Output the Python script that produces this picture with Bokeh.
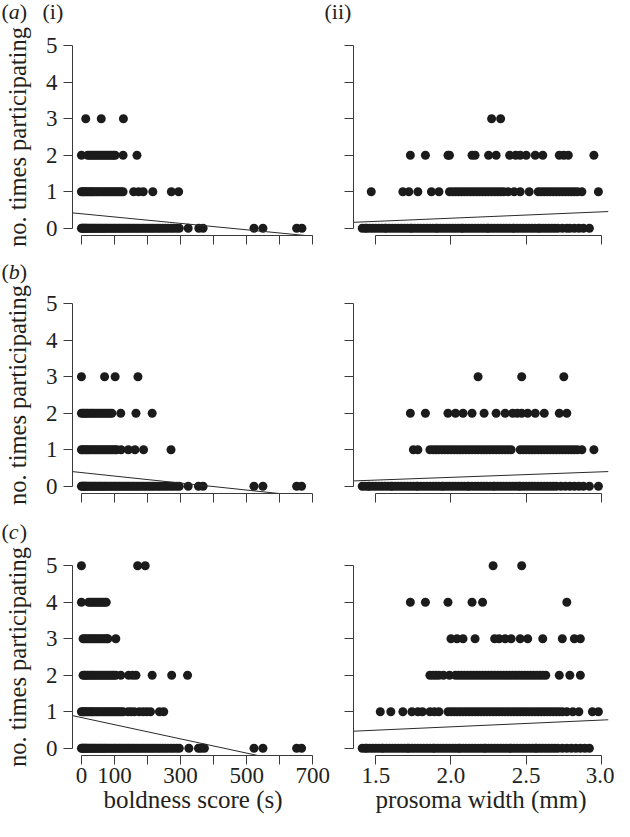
from bokeh.plotting import figure
from bokeh.layouts import column, row
from bokeh.models import FixedTicker, Range1d
from bokeh.core.properties import value
from bokeh.embed import file_html
from bokeh.resources import INLINE

# ---------------- data ----------------
# count levels 0..5 ; each list = x positions of the points at that count

# (a)(i) boldness score
bold_a_0 = [0, 3, 6, 9, 12, 15, 19, 23, 27, 32, 36, 41, 45, 50, 55, 59, 64, 69, 74, 79, 85, 90, 96, 101,
            107, 113, 118, 124, 130, 136, 142, 148, 155, 161, 168, 174, 181, 188, 195, 202, 209, 216, 223,
            231, 238, 246, 254, 262, 271, 279, 288, 296, 323, 355, 368, 522, 549, 651, 667]
bold_a_1 = [0, 4, 8, 12, 17, 22, 27, 32, 37, 43, 48, 54, 60, 66, 72, 78, 84, 90, 96, 102, 108, 114, 120,
            126, 158, 173, 187, 216, 272, 294]
bold_a_2 = [0, 19, 25, 31, 37, 43, 49, 55, 61, 67, 73, 79, 85, 91, 97, 102, 126, 168]
bold_a_3 = [13, 60, 127]
reg_a_bold = [0.396, -0.00088]   # intercept, slope

# (a)(ii) prosoma width
pros_a_0 = [1.41, 1.43, 1.44, 1.46, 1.48, 1.50, 1.52, 1.54, 1.56, 1.57, 1.59, 1.61, 1.63, 1.65, 1.67, 1.69,
            1.71, 1.73, 1.74, 1.76, 1.78, 1.80, 1.82, 1.84, 1.86, 1.88, 1.90, 1.91, 1.93, 1.95, 1.97, 1.99,
            2.01, 2.03, 2.05, 2.07, 2.08, 2.10, 2.12, 2.14, 2.16, 2.18, 2.20, 2.22, 2.24, 2.25, 2.27, 2.29,
            2.31, 2.33, 2.35, 2.37, 2.39, 2.41, 2.42, 2.44, 2.46, 2.48, 2.50, 2.52, 2.54, 2.56, 2.58, 2.59,
            2.61, 2.63, 2.65, 2.67, 2.69, 2.71, 2.74, 2.77, 2.79, 2.82, 2.85, 2.88, 2.92]
pros_a_1 = [1.47, 1.68, 1.72, 1.78, 1.87, 1.92, 1.99, 2.01, 2.03, 2.05, 2.07, 2.09, 2.11, 2.13, 2.15, 2.17,
            2.19, 2.21, 2.23, 2.25, 2.27, 2.29, 2.31, 2.33, 2.35, 2.38, 2.42, 2.46, 2.52, 2.58, 2.60, 2.62,
            2.64, 2.66, 2.68, 2.70, 2.72, 2.74, 2.76, 2.78, 2.80, 2.82, 2.84, 2.87, 2.98]
pros_a_2 = [1.73, 1.83, 1.98, 1.99, 2.14, 2.16, 2.25, 2.30, 2.39, 2.43, 2.46, 2.50, 2.56, 2.61, 2.72,
            2.75, 2.78, 2.95]
pros_a_3 = [2.27, 2.33]
reg_a_pros = [-0.074, 0.174]

# (b)(i) boldness score
bold_b_0 = [0, 3, 6, 9, 12, 15, 19, 23, 27, 32, 36, 41, 45, 50, 55, 59, 64, 69, 74, 79, 85, 90, 96, 101,
            107, 113, 118, 124, 130, 136, 142, 148, 155, 161, 168, 174, 181, 188, 195, 202, 209, 216, 223,
            231, 238, 246, 254, 262, 271, 279, 288, 296, 323, 354, 368, 522, 549, 651, 666]
bold_b_1 = [0, 4, 9, 14, 19, 24, 30, 36, 42, 48, 54, 60, 66, 72, 78, 84, 90, 96, 102, 107, 120, 142,
            162, 188, 271]
bold_b_2 = [0, 5, 10, 15, 20, 26, 32, 38, 44, 50, 56, 62, 68, 74, 80, 86, 92, 119, 165, 214]
bold_b_3 = [0, 70, 102, 171]
reg_b_bold = [0.374, -0.00096]

# (b)(ii) prosoma width
pros_b_0 = [1.41, 1.43, 1.45, 1.46, 1.48, 1.50, 1.52, 1.54, 1.56, 1.58, 1.60, 1.61, 1.63, 1.65, 1.67, 1.69,
            1.71, 1.73, 1.75, 1.77, 1.78, 1.80, 1.82, 1.84, 1.86, 1.88, 1.90, 1.92, 1.94, 1.95, 1.97, 1.99,
            2.01, 2.03, 2.05, 2.07, 2.09, 2.11, 2.12, 2.14, 2.16, 2.18, 2.20, 2.22, 2.24, 2.26, 2.28, 2.29,
            2.31, 2.33, 2.35, 2.37, 2.39, 2.41, 2.43, 2.45, 2.46, 2.48, 2.50, 2.52, 2.54, 2.56, 2.58, 2.60,
            2.62, 2.64, 2.66, 2.68, 2.70, 2.73, 2.76, 2.79, 2.82, 2.85, 2.88, 2.92, 2.98]
pros_b_1 = [1.75, 1.78, 1.86, 1.88, 1.90, 1.92, 1.94, 1.96, 1.98, 2.00, 2.02, 2.04, 2.06, 2.08, 2.10, 2.12,
            2.14, 2.16, 2.18, 2.20, 2.22, 2.24, 2.26, 2.28, 2.30, 2.32, 2.34, 2.36, 2.38, 2.40, 2.46, 2.48,
            2.50, 2.52, 2.54, 2.56, 2.58, 2.60, 2.62, 2.64, 2.66, 2.68, 2.70, 2.72, 2.74, 2.76, 2.78, 2.80,
            2.82, 2.84, 2.87, 2.95]
pros_b_2 = [1.73, 1.83, 1.98, 2.03, 2.08, 2.14, 2.22, 2.30, 2.36, 2.41, 2.44, 2.47, 2.51, 2.56, 2.62,
            2.72, 2.77]
pros_b_3 = [2.18, 2.47, 2.75]
reg_b_pros = [-0.059, 0.151]

# (c)(i) boldness score
bold_c_0 = [0, 3, 6, 9, 12, 15, 19, 23, 27, 32, 36, 41, 45, 50, 55, 59, 64, 69, 74, 79, 85, 90, 96, 101,
            107, 113, 118, 124, 130, 136, 142, 148, 155, 161, 168, 174, 181, 188, 195, 202, 209, 216, 223,
            231, 238, 246, 254, 262, 271, 279, 288, 296, 325, 354, 362, 372, 522, 549, 651, 666]
bold_c_1 = [0, 4, 8, 12, 17, 22, 27, 32, 37, 43, 48, 54, 60, 66, 72, 78, 84, 90, 96, 102, 108, 114, 120,
            126, 141, 150, 160, 175, 187, 198, 209, 236, 249]
bold_c_2 = [5, 10, 15, 20, 26, 32, 38, 44, 50, 56, 62, 68, 74, 80, 86, 92, 98, 104, 119, 143, 155, 165,
            214, 273, 321]
bold_c_3 = [5, 10, 16, 22, 28, 34, 40, 46, 52, 58, 64, 70, 76, 80, 104]
bold_c_4 = [0, 22, 28, 34, 40, 46, 52, 58, 64, 70, 75]
bold_c_5 = [0, 170, 193]
reg_c_bold = [0.84, -0.00195]

# (c)(ii) prosoma width
pros_c_0 = [1.41, 1.43, 1.44, 1.46, 1.48, 1.50, 1.52, 1.54, 1.55, 1.57, 1.59, 1.61, 1.63, 1.65, 1.67, 1.69,
            1.71, 1.72, 1.74, 1.76, 1.78, 1.80, 1.82, 1.84, 1.86, 1.88, 1.89, 1.91, 1.93, 1.95, 1.97, 1.99,
            2.01, 2.03, 2.05, 2.06, 2.08, 2.10, 2.12, 2.14, 2.16, 2.18, 2.20, 2.22, 2.23, 2.25, 2.27, 2.29,
            2.31, 2.33, 2.35, 2.37, 2.39, 2.40, 2.42, 2.44, 2.46, 2.48, 2.50, 2.52, 2.54, 2.56, 2.57, 2.59,
            2.61, 2.63, 2.65, 2.67, 2.69, 2.71, 2.74, 2.77, 2.80, 2.83, 2.86, 2.89, 2.92]
pros_c_1 = [1.53, 1.60, 1.68, 1.74, 1.78, 1.81, 1.86, 1.89, 1.92, 1.98, 2.00, 2.02, 2.04, 2.06, 2.08, 2.10,
            2.12, 2.14, 2.16, 2.18, 2.20, 2.22, 2.24, 2.26, 2.28, 2.30, 2.32, 2.34, 2.36, 2.38, 2.40, 2.42,
            2.44, 2.46, 2.48, 2.50, 2.52, 2.54, 2.56, 2.58, 2.60, 2.62, 2.64, 2.66, 2.68, 2.70, 2.72, 2.74,
            2.77, 2.81, 2.85, 2.94, 2.98]
pros_c_2 = [1.86, 1.88, 1.90, 1.92, 1.95, 1.99, 2.03, 2.05, 2.07, 2.09, 2.11, 2.13, 2.15, 2.17, 2.19, 2.21,
            2.23, 2.25, 2.27, 2.29, 2.31, 2.33, 2.35, 2.37, 2.39, 2.41, 2.43, 2.45, 2.47, 2.49, 2.51, 2.53,
            2.55, 2.57, 2.59, 2.61, 2.63, 2.72, 2.79, 2.86]
pros_c_3 = [2.00, 2.04, 2.08, 2.16, 2.29, 2.32, 2.36, 2.40, 2.46, 2.51, 2.61, 2.74, 2.82, 2.86]
pros_c_4 = [1.73, 1.83, 1.98, 2.14, 2.21, 2.77]
pros_c_5 = [2.28, 2.47]
reg_c_pros = [0.216, 0.185]

count_ticks = [0, 1, 2, 3, 4, 5]
bold_ticks = [0, 100, 200, 300, 400, 500, 600, 700]
bold_tick_labels = ["0", "100", "", "300", "", "500", "", "700"]
pros_ticks = [1.5, 2.0, 2.5, 3.0]
pros_tick_labels = ["1.5", "2.0", "2.5", "3.0"]

# ---------------- styling ----------------
FONT = "Liberation Serif"
INK = "#1b1b1b"
AX = "#3a3a3a"
TXT = "#231f20"
BOLD_RANGE = (-27, 702)
PROS_RANGE = (1.352, 3.047)
Y_RANGE = (-0.2, 5.2)
PAGE_W = 614


def style_axis(ax, ticks, bounds, labels=None, standoff=6):
    ax.ticker = FixedTicker(ticks=ticks, minor_ticks=[])
    ax.bounds = bounds
    ax.axis_line_color = AX
    ax.axis_line_width = 1
    ax.major_tick_line_color = AX
    ax.major_tick_line_width = 1
    ax.major_tick_out = 9
    ax.major_tick_in = 0
    ax.minor_tick_out = 0
    ax.minor_tick_in = 0
    ax.major_label_text_font = FONT
    ax.major_label_text_color = TXT
    ax.axis_label_text_font = FONT
    ax.axis_label_text_font_style = "normal"
    ax.axis_label_text_color = TXT
    ax.axis_label_text_font_size = "25px"
    if labels is None:
        ax.major_label_overrides = {t: "" for t in ticks}
        ax.major_label_text_font_size = "1px"
        ax.major_label_standoff = 0
    else:
        ax.major_label_overrides = {t: s for t, s in zip(ticks, labels)}
        ax.major_label_text_font_size = "23px"
        ax.major_label_standoff = standoff


def make_panel(geom, levels, reg):
    w, h, bl, br, bt, bb, xr = geom
    p = figure(width=w, height=h, output_backend="svg", toolbar_location=None,
               x_range=Range1d(*xr), y_range=Range1d(*Y_RANGE),
               min_border_left=bl, min_border_right=br, min_border_top=bt, min_border_bottom=bb)
    p.outline_line_color = None
    p.xgrid.visible = False
    p.ygrid.visible = False
    p.background_fill_color = "white"
    p.border_fill_color = "white"
    for count, xs in enumerate(levels):
        p.scatter(xs, [count] * len(xs), size=9, fill_color=INK, line_color=None)
    b0, b1 = reg
    p.line([xr[0], xr[1]], [b0 + b1 * xr[0], b0 + b1 * xr[1]], line_color="#2a2a2a", line_width=1)
    return p


def tag_strip(height, items):
    """A thin figure that only carries the panel tags such as (a), (i)."""
    s = figure(width=PAGE_W, height=height, output_backend="svg", toolbar_location=None,
               x_range=Range1d(0, PAGE_W), y_range=Range1d(height, 0),
               x_axis_type=None, y_axis_type=None,
               min_border_left=0, min_border_right=0, min_border_top=0, min_border_bottom=0)
    s.outline_line_color = None
    s.background_fill_color = "white"
    s.border_fill_color = "white"
    for x, y, txt, style in items:
        s.text(x=[x], y=[y], text=[txt], text_font=value(FONT), text_font_size="22px",
               text_font_style=style, text_color=TXT, text_align="left", text_baseline="middle")
    return s


def tag_items(x, y, letter):
    return [(x, y, "(", "normal"), (x + 7.3, y, letter, "italic"), (x + 18.3, y, ")", "normal")]


YLAB = "no. times participating"

# geometry: width, height, border left/right/top/bottom, x range
g1l = (320, 223, 68, 7, 12, 14, BOLD_RANGE)
g1r = (294, 223, 33, 6, 12, 14, PROS_RANGE)
g2l = (320, 234, 68, 7, 12, 25, BOLD_RANGE)
g2r = (294, 234, 33, 6, 12, 25, PROS_RANGE)
g3l = (338, 275, 68, 25, 12, 66, BOLD_RANGE)
g3r = (276, 275, 15, 6, 12, 66, PROS_RANGE)

panels = []
specs = [
    (g1l, [bold_a_0, bold_a_1, bold_a_2, bold_a_3], reg_a_bold, "bold", False),
    (g1r, [pros_a_0, pros_a_1, pros_a_2, pros_a_3], reg_a_pros, "pros", False),
    (g2l, [bold_b_0, bold_b_1, bold_b_2, bold_b_3], reg_b_bold, "bold", False),
    (g2r, [pros_b_0, pros_b_1, pros_b_2, pros_b_3], reg_b_pros, "pros", False),
    (g3l, [bold_c_0, bold_c_1, bold_c_2, bold_c_3, bold_c_4, bold_c_5], reg_c_bold, "bold", True),
    (g3r, [pros_c_0, pros_c_1, pros_c_2, pros_c_3, pros_c_4, pros_c_5], reg_c_pros, "pros", True),
]
for geom, levels, reg, kind, bottom in specs:
    p = make_panel(geom, levels, reg)
    yax = p.yaxis[0]
    xax = p.xaxis[0]
    if kind == "bold":
        style_axis(yax, count_ticks, (0, 5), [str(t) for t in count_ticks], standoff=6)
        yax.axis_label = YLAB
        yax.axis_label_text_font_size = "24.5px"
        yax.axis_label_standoff = 12
        if bottom:
            style_axis(xax, bold_ticks, (0, 700), bold_tick_labels, standoff=3)
            xax.axis_label = "boldness score (s)"
            xax.axis_label_standoff = 0
        else:
            style_axis(xax, bold_ticks, (0, 700))
    else:
        style_axis(yax, count_ticks, (0, 5))
        if bottom:
            style_axis(xax, pros_ticks, (1.5, 3.0), pros_tick_labels, standoff=3)
            xax.axis_label = "prosoma width (mm)"
            xax.axis_label_standoff = 0
        else:
            style_axis(xax, pros_ticks, (1.5, 3.0))
    panels.append(p)

strip1 = tag_strip(26, tag_items(1, 10.7, "a") + [(42, 10.7, "(i)", "normal"), (324, 10.7, "(ii)", "normal")])
strip2 = tag_strip(35, tag_items(1, 22.2, "b"))
strip3 = tag_strip(28, tag_items(1, 12.7, "c"))

layout = column(strip1, row(panels[0], panels[1]),
                strip2, row(panels[2], panels[3]),
                strip3, row(panels[4], panels[5]))

open("out.html", "w").write(file_html(layout, INLINE))
